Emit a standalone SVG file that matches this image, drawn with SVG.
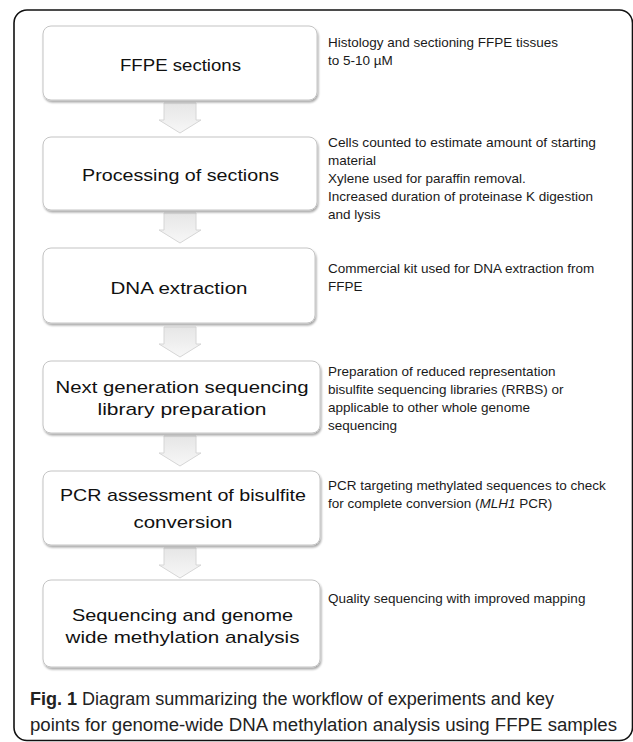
<svg xmlns="http://www.w3.org/2000/svg" width="633" height="742" viewBox="0 0 633 742">
<style>
.frame{fill:#fff;stroke:#111;stroke-width:1.6}
.box{fill:#fff;stroke:#c4c4c4;stroke-width:1}
.lbl{font-family:"Liberation Sans",Arial,sans-serif;font-size:17px;fill:#111;text-anchor:middle}
.desc{font-family:"Liberation Sans",Arial,sans-serif;font-size:13.5px;fill:#1a1a1a}
.cap{font-family:"Liberation Sans",Arial,sans-serif;font-size:17.5px;fill:#222}
.arr{fill:url(#ag);stroke:#d6d6d6;stroke-width:1}
</style>
<defs>
<linearGradient id="ag" x1="0" y1="0" x2="0" y2="1">
<stop offset="0" stop-color="#e6e6e6"/>
<stop offset="1" stop-color="#f7f7f7"/>
</linearGradient>
<filter id="sh" x="-5%" y="-5%" width="112%" height="120%">
<feGaussianBlur in="SourceAlpha" stdDeviation="1.2"/>
<feOffset dx="0.5" dy="1.5" result="b"/>
<feComponentTransfer><feFuncA type="linear" slope="0.35"/></feComponentTransfer>
<feMerge><feMergeNode/><feMergeNode in="SourceGraphic"/></feMerge>
</filter>
<path id="arrow" d="M-16,0 H16 V17 H21 L0,30 L-21,17 H-16 Z"/>
</defs>
<rect class="frame" x="14" y="10" width="618.5" height="730.5" rx="13"/>
<g id="connectors">
<use href="#arrow" class="arr" x="180" y="103"/>
<use href="#arrow" class="arr" x="180" y="213"/>
<use href="#arrow" class="arr" x="180" y="327"/>
<use href="#arrow" class="arr" x="180" y="436"/>
<use href="#arrow" class="arr" x="180" y="548"/>
</g>
<g id="n1">
<rect class="box" x="43" y="26" width="274" height="74" rx="8" filter="url(#sh)"/>
<text class="lbl" x="180.5" y="71" textLength="121" lengthAdjust="spacingAndGlyphs">FFPE sections</text>
<text class="desc" x="328" y="47" textLength="230" lengthAdjust="spacingAndGlyphs">Histology and sectioning FFPE tissues</text>
<text class="desc" x="328" y="65">to 5-10 µM</text>
</g>
<g id="n2">
<rect class="box" x="43" y="137" width="274" height="73" rx="8" filter="url(#sh)"/>
<text class="lbl" x="180.5" y="181" textLength="197" lengthAdjust="spacingAndGlyphs">Processing of sections</text>
<text class="desc" x="328" y="147" textLength="268" lengthAdjust="spacingAndGlyphs">Cells counted to estimate amount of starting</text>
<text class="desc" x="328" y="165">material</text>
<text class="desc" x="328" y="183">Xylene used for paraffin removal.</text>
<text class="desc" x="328" y="201" textLength="265" lengthAdjust="spacingAndGlyphs">Increased duration of proteinase K digestion</text>
<text class="desc" x="328" y="219">and lysis</text>
</g>
<g id="n3">
<rect class="box" x="43" y="248" width="272" height="75" rx="8" filter="url(#sh)"/>
<text class="lbl" x="179" y="294" textLength="137" lengthAdjust="spacingAndGlyphs">DNA extraction</text>
<text class="desc" x="328" y="273">Commercial kit used for DNA extraction from</text>
<text class="desc" x="328" y="291">FFPE</text>
</g>
<g id="n4">
<rect class="box" x="43" y="361" width="277" height="72" rx="8" filter="url(#sh)"/>
<text class="lbl" x="182" y="393" textLength="253" lengthAdjust="spacingAndGlyphs">Next generation sequencing</text>
<text class="lbl" x="182" y="415" textLength="169" lengthAdjust="spacingAndGlyphs">library preparation</text>
<text class="desc" x="328" y="376">Preparation of reduced representation</text>
<text class="desc" x="328" y="394">bisulfite sequencing libraries (RRBS) or</text>
<text class="desc" x="328" y="412">applicable to other whole genome</text>
<text class="desc" x="328" y="430">sequencing</text>
</g>
<g id="n5">
<rect class="box" x="43" y="471" width="277" height="74" rx="8" filter="url(#sh)"/>
<text class="lbl" x="183" y="501" textLength="246" lengthAdjust="spacingAndGlyphs">PCR assessment of bisulfite</text>
<text class="lbl" x="183" y="528" textLength="99" lengthAdjust="spacingAndGlyphs">conversion</text>
<text class="desc" x="328" y="490">PCR targeting methylated sequences to check</text>
<text class="desc" x="328" y="508">for complete conversion (<tspan font-style="italic">MLH1</tspan> PCR)</text>
</g>
<g id="n6">
<rect class="box" x="43" y="580" width="277" height="87" rx="8" filter="url(#sh)"/>
<text class="lbl" x="182.5" y="621" textLength="221" lengthAdjust="spacingAndGlyphs">Sequencing and genome</text>
<text class="lbl" x="182.5" y="643" textLength="234" lengthAdjust="spacingAndGlyphs">wide methylation analysis</text>
<text class="desc" x="328" y="603">Quality sequencing with improved mapping</text>
</g>
<g id="caption">
<text class="cap" x="30" y="705" textLength="524" lengthAdjust="spacingAndGlyphs"><tspan font-weight="bold">Fig. 1</tspan> Diagram summarizing the workflow of experiments and key</text>
<text class="cap" x="30" y="731" textLength="587" lengthAdjust="spacingAndGlyphs">points for genome-wide DNA methylation analysis using FFPE samples</text>
</g>
</svg>
